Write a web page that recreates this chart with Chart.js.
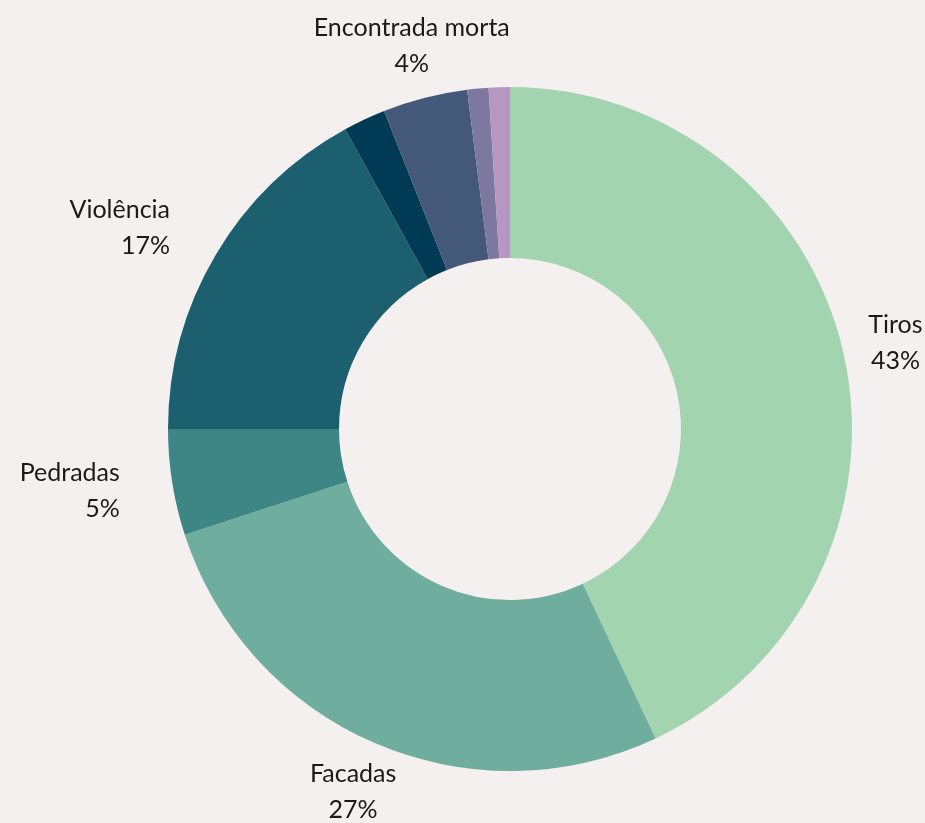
<!DOCTYPE html>
<html>
<head>
<meta charset="utf-8">
<script src="https://cdn.jsdelivr.net/npm/chart.js@4"></script>
<style>
  html, body { margin: 0; padding: 0; background: #f5f0f0; }
  #wrap { width: 925px; height: 823px; position: relative; }
</style>
</head>
<body>
<div id="wrap"><canvas id="donut"></canvas></div>
<script>
// slices, clockwise from the top
const categories = ['Tiros', 'Facadas', 'Pedradas', 'Violência', '', 'Encontrada morta', '', ''];
const shares = [43, 27, 5, 17, 2, 4, 1, 1];
const sliceColors = ['#a3d4b0', '#6fae9e', '#3e8585', '#1c5f6f', '#003a54', '#44597a', '#7d789f', '#b597c2'];

// draws "name / xx%" outside each named slice
const outsideLabels = {
  id: 'outsideLabels',
  afterDatasetsDraw(chart) {
    const ctx = chart.ctx;
    const meta = chart.getDatasetMeta(0);
    ctx.save();
    ctx.fillStyle = '#1a1a1a';
    ctx.font = '25px Lato';
    ctx.textBaseline = 'middle';
    meta.data.forEach((arc, i) => {
      if (!categories[i]) return;
      const mid = (arc.startAngle + arc.endAngle) / 2;
      const r = arc.outerRadius + 53;
      const x = arc.x + Math.cos(mid) * r;
      const y = arc.y + Math.sin(mid) * r;
      ctx.textAlign = Math.cos(mid) < -0.6 ? 'right' : 'center';
      ctx.fillText(categories[i], x, y - 18);
      ctx.fillText(shares[i] + '%', x, y + 18);
    });
    ctx.restore();
  }
};

new Chart(document.getElementById('donut'), {
  type: 'doughnut',
  data: {
    labels: categories,
    datasets: [{
      data: shares,
      backgroundColor: sliceColors,
      borderWidth: 0,
    }],
  },
  options: {
    responsive: true,
    maintainAspectRatio: false,
    animation: false,
    cutout: '50%',
    layout: { padding: { left: 168, right: 73, top: 87, bottom: 52 } },
    plugins: {
      legend: { display: false },
      tooltip: { enabled: false },
    },
  },
  plugins: [outsideLabels],
});
</script>
</body>
</html>
